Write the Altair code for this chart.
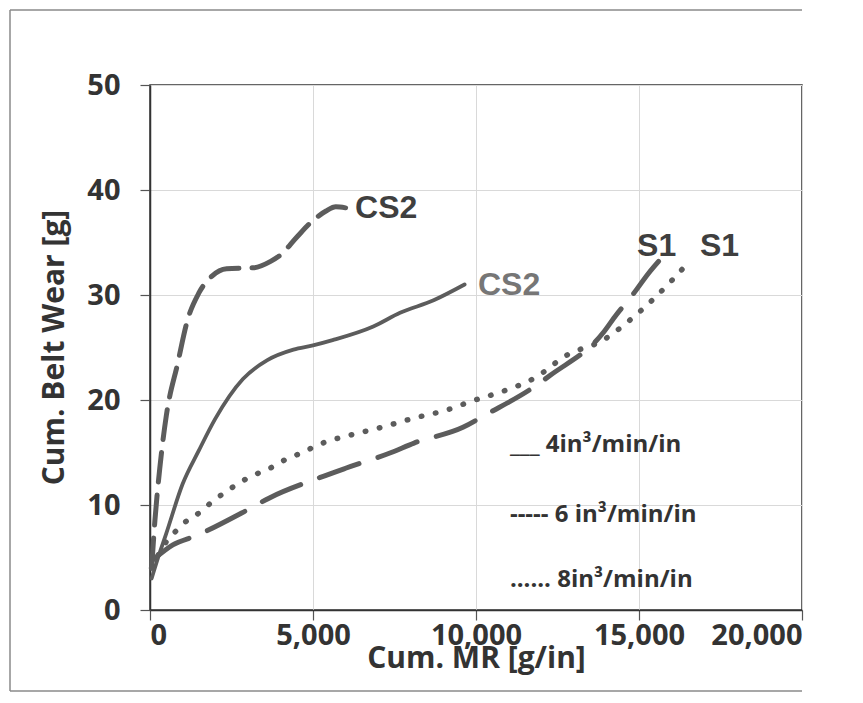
import altair as alt
import pandas as pd

# 4 in3/min/in (solid, CS2)
s4_x = [50, 250, 500, 1000, 1500, 2000, 2850, 3600, 4400, 5000, 5600, 6850, 7670, 8700, 9650]
s4_y = [3.0, 5.0, 7.3, 12.0, 15.2, 18.2, 22.0, 23.8, 24.8, 25.2, 25.7, 27.0, 28.3, 29.5, 31.0]

# 6 in3/min/in (dashed, CS2)
d6a_x = [50, 150, 300, 500, 850, 1150, 1500, 1900, 2350, 3200, 3700, 4000, 4500, 5000, 5400, 5700, 6000]
d6a_y = [4.0, 8.5, 13.5, 18.5, 23.5, 27.6, 30.2, 31.8, 32.5, 32.6, 33.2, 33.8, 35.5, 37.1, 38.0, 38.4, 38.3]

# 6 in3/min/in (dashed, S1)
d6b_x = [100, 700, 1430, 2970, 3680, 5200, 6000, 7400, 8100, 9600, 10300, 11660, 12300, 13900, 14300, 14800, 15300, 15600]
d6b_y = [4.8, 6.2, 7.1, 9.5, 10.7, 12.6, 13.5, 15.0, 15.9, 17.4, 18.6, 21.0, 22.4, 26.4, 28.1, 30.0, 32.1, 33.2]

# 8 in3/min/in (dotted, S1)
d8_x = [50, 500, 820, 1170, 1530, 1900, 2300, 2900, 3300, 3740, 4140, 4600, 5300, 6200, 7100, 8130,
        9050, 9970, 10800, 11800, 12800, 13900, 14600, 15300, 15950, 16600]
d8_y = [4.0, 6.5, 7.6, 8.6, 9.3, 10.3, 11.2, 12.4, 13.0, 13.6, 14.3, 14.9, 15.9, 16.7, 17.4, 18.3,
        19.0, 20.0, 20.8, 22.1, 24.3, 25.7, 27.3, 29.2, 31.2, 33.4]

# curve labels
lab_text = ["CS2", "CS2", "S1", "S1"]
lab_x = [6290, 10060, 14940, 16870]
lab_y = [38.3, 31.0, 34.7, 34.7]
lab_color = ["#3f3f3f", "#767676", "#3f3f3f", "#3f3f3f"]

# legend text
leg_text = ["___ 4in³/min/in", "----- 6 in³/min/in", "...... 8in³/min/in"]
leg_x = [11040, 11040, 11040]
leg_y = [15.7, 9.05, 2.86]

x_ticks = [0, 5000, 10000, 15000, 20000]
y_ticks = [0, 10, 20, 30, 40, 50]


def frame(xs, ys):
    return pd.DataFrame({"x": xs, "y": ys, "o": list(range(len(xs)))})


X = alt.X("x:Q", scale=alt.Scale(domain=[0, 20000], nice=False),
          axis=alt.Axis(values=x_ticks, format=",.0f", title="Cum. MR [g/in]",
                        labelPadding=1, titleX=326, titleY=33, titleBaseline="top",
                        titleAlign="center"))
Y = alt.Y("y:Q", scale=alt.Scale(domain=[0, 50], nice=False),
          axis=alt.Axis(values=y_ticks, title="Cum. Belt Wear [g]", labelPadding=20,
                        titleX=-96, titleY=262, titleAngle=-90, titleBaseline="middle",
                        titleAlign="center"))
O = alt.Order("o:Q")

line_col = "#5c5c5c"

solid = alt.Chart(frame(s4_x, s4_y)).mark_line(
    color=line_col, strokeWidth=3.8, interpolate="monotone", strokeCap="round"
).encode(x=X, y=Y, order=O)

dash_a = alt.Chart(frame(d6a_x, d6a_y)).mark_line(
    color=line_col, strokeWidth=5, interpolate="monotone", strokeDash=[30, 13], strokeCap="round"
).encode(x=X, y=Y, order=O)

dash_b = alt.Chart(frame(d6b_x, d6b_y)).mark_line(
    color=line_col, strokeWidth=5, interpolate="monotone", strokeDash=[42, 20], strokeCap="round"
).encode(x=X, y=Y, order=O)

dots = alt.Chart(frame(d8_x, d8_y)).mark_line(
    color=line_col, strokeWidth=5.5, interpolate="monotone", strokeDash=[0.5, 14], strokeCap="round"
).encode(x=X, y=Y, order=O)

labels = alt.Chart(pd.DataFrame({"t": lab_text, "x": lab_x, "y": lab_y, "c": lab_color})).mark_text(
    font="Liberation Sans", fontWeight="bold", fontSize=32, align="left", baseline="middle"
).encode(x=X, y=Y, text="t:N", color=alt.Color("c:N", scale=None))

legend = alt.Chart(pd.DataFrame({"t": leg_text, "x": leg_x, "y": leg_y})).mark_text(
    font="Open Sans", fontWeight="bold", fontSize=24, align="left", baseline="middle", color="#333333"
).encode(x=X, y=Y, text="t:N")

# outer frame of the figure (decoration, in pixels)
one = pd.DataFrame({"a": [0]})
fr_left = alt.Chart(one).mark_rule(color="#8a8a8a", strokeWidth=1.5).encode(
    x=alt.value(-140), x2=alt.value(-140), y=alt.value(-75), y2=alt.value(606))
fr_top = alt.Chart(one).mark_rule(color="#8a8a8a", strokeWidth=1.5).encode(
    x=alt.value(-140), x2=alt.value(652), y=alt.value(-75), y2=alt.value(-75))
fr_bot = alt.Chart(one).mark_rule(color="#8a8a8a", strokeWidth=1.5).encode(
    x=alt.value(-140), x2=alt.value(652), y=alt.value(606), y2=alt.value(606))

chart = alt.layer(solid, dash_a, dash_b, dots, labels, legend, fr_left, fr_top, fr_bot).properties(
    width=652, height=525,
    padding={"left": 142, "top": 77, "right": 51, "bottom": 83},
    autosize=alt.AutoSizeParams(type="none"),
).configure_axis(
    labelFont="Open Sans", labelFontWeight="bold", labelFontSize=29, labelColor="#333333",
    titleFont="Open Sans", titleFontWeight="bold", titleFontSize=30, titleColor="#333333",
    gridColor="#d9d9d9", gridWidth=1, domainColor="#333333", domainWidth=1.5,
    tickColor="#555555", tickSize=10, tickWidth=1.2,
).configure_view(stroke="#333333", strokeWidth=1.5)

chart.save("out.html", embed_options={"renderer": "svg", "actions": False})
